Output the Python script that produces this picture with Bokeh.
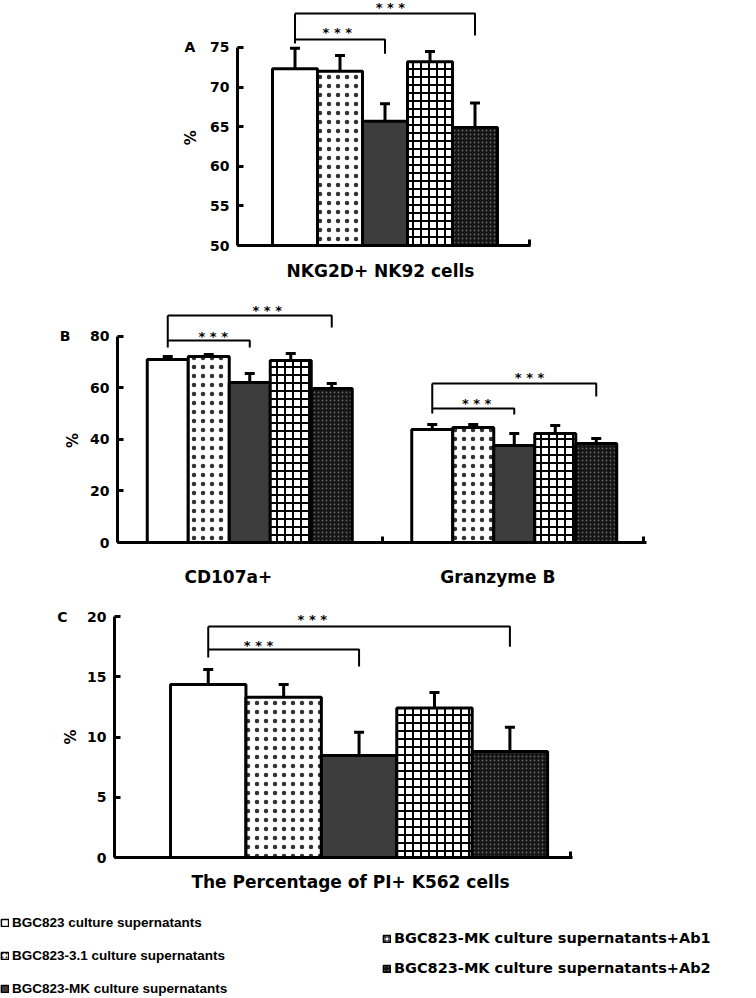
import numpy as np
from bokeh.plotting import figure
from bokeh.models import (Range1d, FixedTicker, Whisker, TeeHead, ColumnDataSource,
                          Legend, LegendItem, LinearAxis)
from bokeh.embed import file_html
from bokeh.resources import INLINE
from bokeh.core.properties import value

# ---------------- data ----------------
series = ["BGC823 culture supernatants",
          "BGC823-3.1 culture supernatants",
          "BGC823-MK culture supernatants",
          "BGC823-MK culture supernatants+Ab1",
          "BGC823-MK culture supernatants+Ab2"]

# Panel A: NKG2D+ NK92 cells
A_label = "NKG2D+ NK92 cells"
A_mean = [72.3, 72.0, 65.7, 73.2, 64.9]
A_err = [2.6, 2.0, 2.2, 1.3, 3.1]
A_ticks = [50, 55, 60, 65, 70, 75]

# Panel B: CD107a+ and Granzyme B
B_groups = ["CD107a+", "Granzyme B"]
B_mean = [[71.1, 43.9], [72.2, 44.7], [62.1, 37.7], [70.7, 42.3], [59.8, 38.4]]
B_err = [[1.1, 1.9], [0.8, 1.1], [3.5, 4.6], [2.7, 3.1], [1.9, 2.0]]
B_ticks = [0, 20, 40, 60, 80]

# Panel C: The Percentage of PI+ K562 cells
C_label = "The Percentage of PI+ K562 cells"
C_mean = [14.36, 13.3, 8.46, 12.4, 8.8]
C_err = [1.24, 1.06, 1.94, 1.3, 2.0]
C_ticks = [0, 5, 10, 15, 20]

y_title = "%"

# significance brackets (bar 0 vs bar 2, bar 0 vs bar 4): level, right drop, left drop
sig_pairs = [(0, 2), (0, 4)]
sig_text = "* * *"
A_sig_y = [76.0, 79.3]
A_sig_drop = [74.2, 76.5]
A_sig_left = 75.5
A_star = [(0.94, 77.4), (2.12, 80.5)]
B_sig_y = [[78.4, 88.2], [52.0, 61.7]]
B_sig_drop = [[75.7, 83.5], [49.7, 56.7]]
B_sig_left = [75.7, 50.1]
B_star = [[(-0.138, 81.6), (0.066, 91.7)], [(0.858, 55.5), (1.058, 65.6)]]
C_sig_y = [17.26, 19.17]
C_sig_drop = [15.85, 17.5]
C_sig_left = 16.6
C_star = [(0.667, 17.93), (1.38, 20.08)]

# ---------------- styles ----------------
FILL = ["white", "white", "#3d3d3d", "white", "#141414"]
HATCH = [None, "dot", None, "cross", "dot"]
HATCH_COLOR = ["black", "#333333", "black", "black", "#5e5e5e"]
HATCH_SCALE = [8, 9, 8, 8, 4]
HATCH_WEIGHT = [1, 0.3, 1, 2, 0.8]
BOLD = "DejaVu Sans"
NBSP = "\u00a0"


def draw_bars(p, xpos, means, errs, width, base):
    for s in range(5):
        src = ColumnDataSource(dict(x=xpos[s], top=means[s],
                                    up=[m + e for m, e in zip(means[s], errs[s])]))
        p.vbar(x="x", top="top", bottom=base, width=width, source=src,
               fill_color=FILL[s], line_color="black", line_width=3,
               hatch_pattern=HATCH[s], hatch_color=HATCH_COLOR[s],
               hatch_scale=HATCH_SCALE[s], hatch_weight=HATCH_WEIGHT[s])
        p.add_layout(Whisker(source=src, base="x", lower="top", upper="up",
                             line_color="black", line_width=3, lower_head=None,
                             upper_head=TeeHead(size=10, line_width=3, line_color="black"),
                             level="annotation"))


def draw_brackets(p, centers, ys, drops, left_bottom, stars):
    xl = centers[sig_pairs[0][0]]
    xs_list, ys_list = [], []
    for (a, b), y, d in zip(sig_pairs, ys, drops):
        xr = centers[b]
        xs_list.append([xl, xr, xr])
        ys_list.append([y, y, d])
    xs_list.append([xl, xl])
    ys_list.append([max(ys), left_bottom])
    p.multi_line(xs_list, ys_list, line_color="black", line_width=2)
    p.text(x=[s[0] for s in stars], y=[s[1] for s in stars], text=[sig_text] * len(stars),
           text_font=value(BOLD), text_font_style="bold", text_font_size="13px",
           text_align="center", text_baseline="middle", y_offset=4, text_color="black")


def style_axes(p, yticks, letter, letter_gap, pct_y, pct_standoff, label_x, label_text, minor,
               label_standoff):
    p.xgrid.visible = False
    p.ygrid.visible = False
    p.outline_line_color = None
    p.background_fill_color = "white"
    p.border_fill_color = "white"
    yax = p.yaxis[0]
    yax.ticker = FixedTicker(ticks=yticks)
    yax.bounds = (yticks[0], yticks[-1])
    yax.major_label_overrides = {yticks[-1]: letter + NBSP * letter_gap + str(yticks[-1])}
    yax.axis_line_width = 3
    yax.axis_line_color = "black"
    yax.major_tick_line_width = 3
    yax.major_tick_line_color = "black"
    yax.major_tick_in = 6
    yax.major_tick_out = 0
    yax.minor_tick_line_color = None
    yax.major_label_text_font = BOLD
    yax.major_label_text_font_style = "bold"
    yax.major_label_text_font_size = "14px"
    yax.major_label_text_color = "black"
    yax.major_label_standoff = 8
    # rotated "%" title as an outer axis without line or ticks
    pct = LinearAxis(ticker=FixedTicker(ticks=[pct_y]), major_label_overrides={pct_y: y_title},
                     axis_line_color=None, major_tick_line_color=None, minor_tick_line_color=None,
                     major_label_orientation="vertical", major_label_standoff=pct_standoff,
                     major_label_text_font=BOLD, major_label_text_font_style="bold",
                     major_label_text_font_size="15px", major_label_text_color="black")
    p.add_layout(pct, "left")
    xax = p.xaxis[0]
    xax.ticker = FixedTicker(ticks=label_x, minor_ticks=minor)
    xax.major_label_overrides = {x: t for x, t in zip(label_x, label_text)}
    xax.major_tick_line_color = None
    xax.major_tick_in = 0
    xax.major_tick_out = 0
    xax.minor_tick_in = 6
    xax.minor_tick_out = 0
    xax.minor_tick_line_width = 3
    xax.minor_tick_line_color = "black"
    xax.axis_line_width = 3
    xax.axis_line_color = "black"
    xax.major_label_text_font = BOLD
    xax.major_label_text_font_style = "bold"
    xax.major_label_text_font_size = "17px"
    xax.major_label_text_color = "black"
    xax.major_label_standoff = label_standoff


common = dict(output_backend="svg", toolbar_location=None, min_border_top=0)

# ---------------- panel A ----------------
pA = figure(width=756, height=290, x_range=Range1d(-1.278, 5.233), y_range=Range1d(50, 80.93),
            min_border_left=237, min_border_right=226, min_border_bottom=45, **common)
xA = [[float(i)] for i in range(5)]
draw_bars(pA, xA, [[m] for m in A_mean], [[e] for e in A_err], 1.0, 50)
draw_brackets(pA, list(range(5)), A_sig_y, A_sig_drop, A_sig_left, A_star)
style_axes(pA, A_ticks, "A", 3, 63.6, -25, [1.9], [A_label], [5.2], 15)

# ---------------- panel B ----------------
wB = 0.155
pB = figure(width=756, height=300, x_range=Range1d(-0.5, 1.5), y_range=Range1d(0, 97.86),
            min_border_left=117, min_border_right=110, min_border_bottom=48, **common)
xB = [[g + (s - 2) * wB for g in range(len(B_groups))] for s in range(5)]
draw_bars(pB, xB, B_mean, B_err, wB, 0)
for g in range(len(B_groups)):
    centers = [g + (s - 2) * wB for s in range(5)]
    draw_brackets(pB, centers, B_sig_y[g], B_sig_drop[g], B_sig_left[g], B_star[g])
style_axes(pB, B_ticks, "B", 4, 39.6, -32, [-0.081, 0.938], B_groups, [0.5, 1.49], 24)

# ---------------- panel C ----------------
pC = figure(width=756, height=310, x_range=Range1d(-1.243, 4.83), y_range=Range1d(0, 22.16),
            min_border_left=114, min_border_right=184, min_border_bottom=43, **common)
draw_bars(pC, xA, [[m] for m in C_mean], [[e] for e in C_err], 1.0, 0)
draw_brackets(pC, list(range(5)), C_sig_y, C_sig_drop, C_sig_left, C_star)
style_axes(pC, C_ticks, "C", 4, 10.0, -32, [1.887], [C_label], [4.8], 14)

# ---------------- legend ----------------
pL = figure(width=756, height=98, x_range=Range1d(0, 1), y_range=Range1d(0, 1),
            x_axis_type=None, y_axis_type=None, min_border=0, output_backend="svg",
            toolbar_location=None)
pL.outline_line_color = None
pL.xgrid.visible = False
pL.ygrid.visible = False
rends = []
for s in range(5):
    # hidden key glyphs: zero-height bar, only used to draw the legend swatches
    r = pL.vbar(x=[0.5], top=[0], bottom=0, width=0.01, fill_color=FILL[s], line_color="black",
                line_width=1.5, hatch_pattern=HATCH[s], hatch_color=HATCH_COLOR[s],
                hatch_scale=min(HATCH_SCALE[s], 4), hatch_weight=1, visible=False)
    rends.append(r)


def make_legend(idx, loc, spacing, font, size):
    leg = Legend(items=[LegendItem(label=series[i], renderers=[rends[i]]) for i in idx],
                 location=loc, orientation="vertical", spacing=spacing, padding=0, margin=0,
                 glyph_width=9, glyph_height=9, label_standoff=3, label_height=16,
                 border_line_color=None, background_fill_alpha=0,
                 inactive_fill_alpha=0,
                 label_text_font=font, label_text_font_style="bold",
                 label_text_font_size=size, label_text_color="black")
    pL.add_layout(leg)


make_legend([0, 1, 2], (0, 2), 17, "Liberation Sans", "13.5px")
make_legend([3, 4], (382, 22), 14, "DejaVu Sans", "14.5px")

open("out.html", "w").write(file_html([pA, pB, pC, pL], INLINE))
